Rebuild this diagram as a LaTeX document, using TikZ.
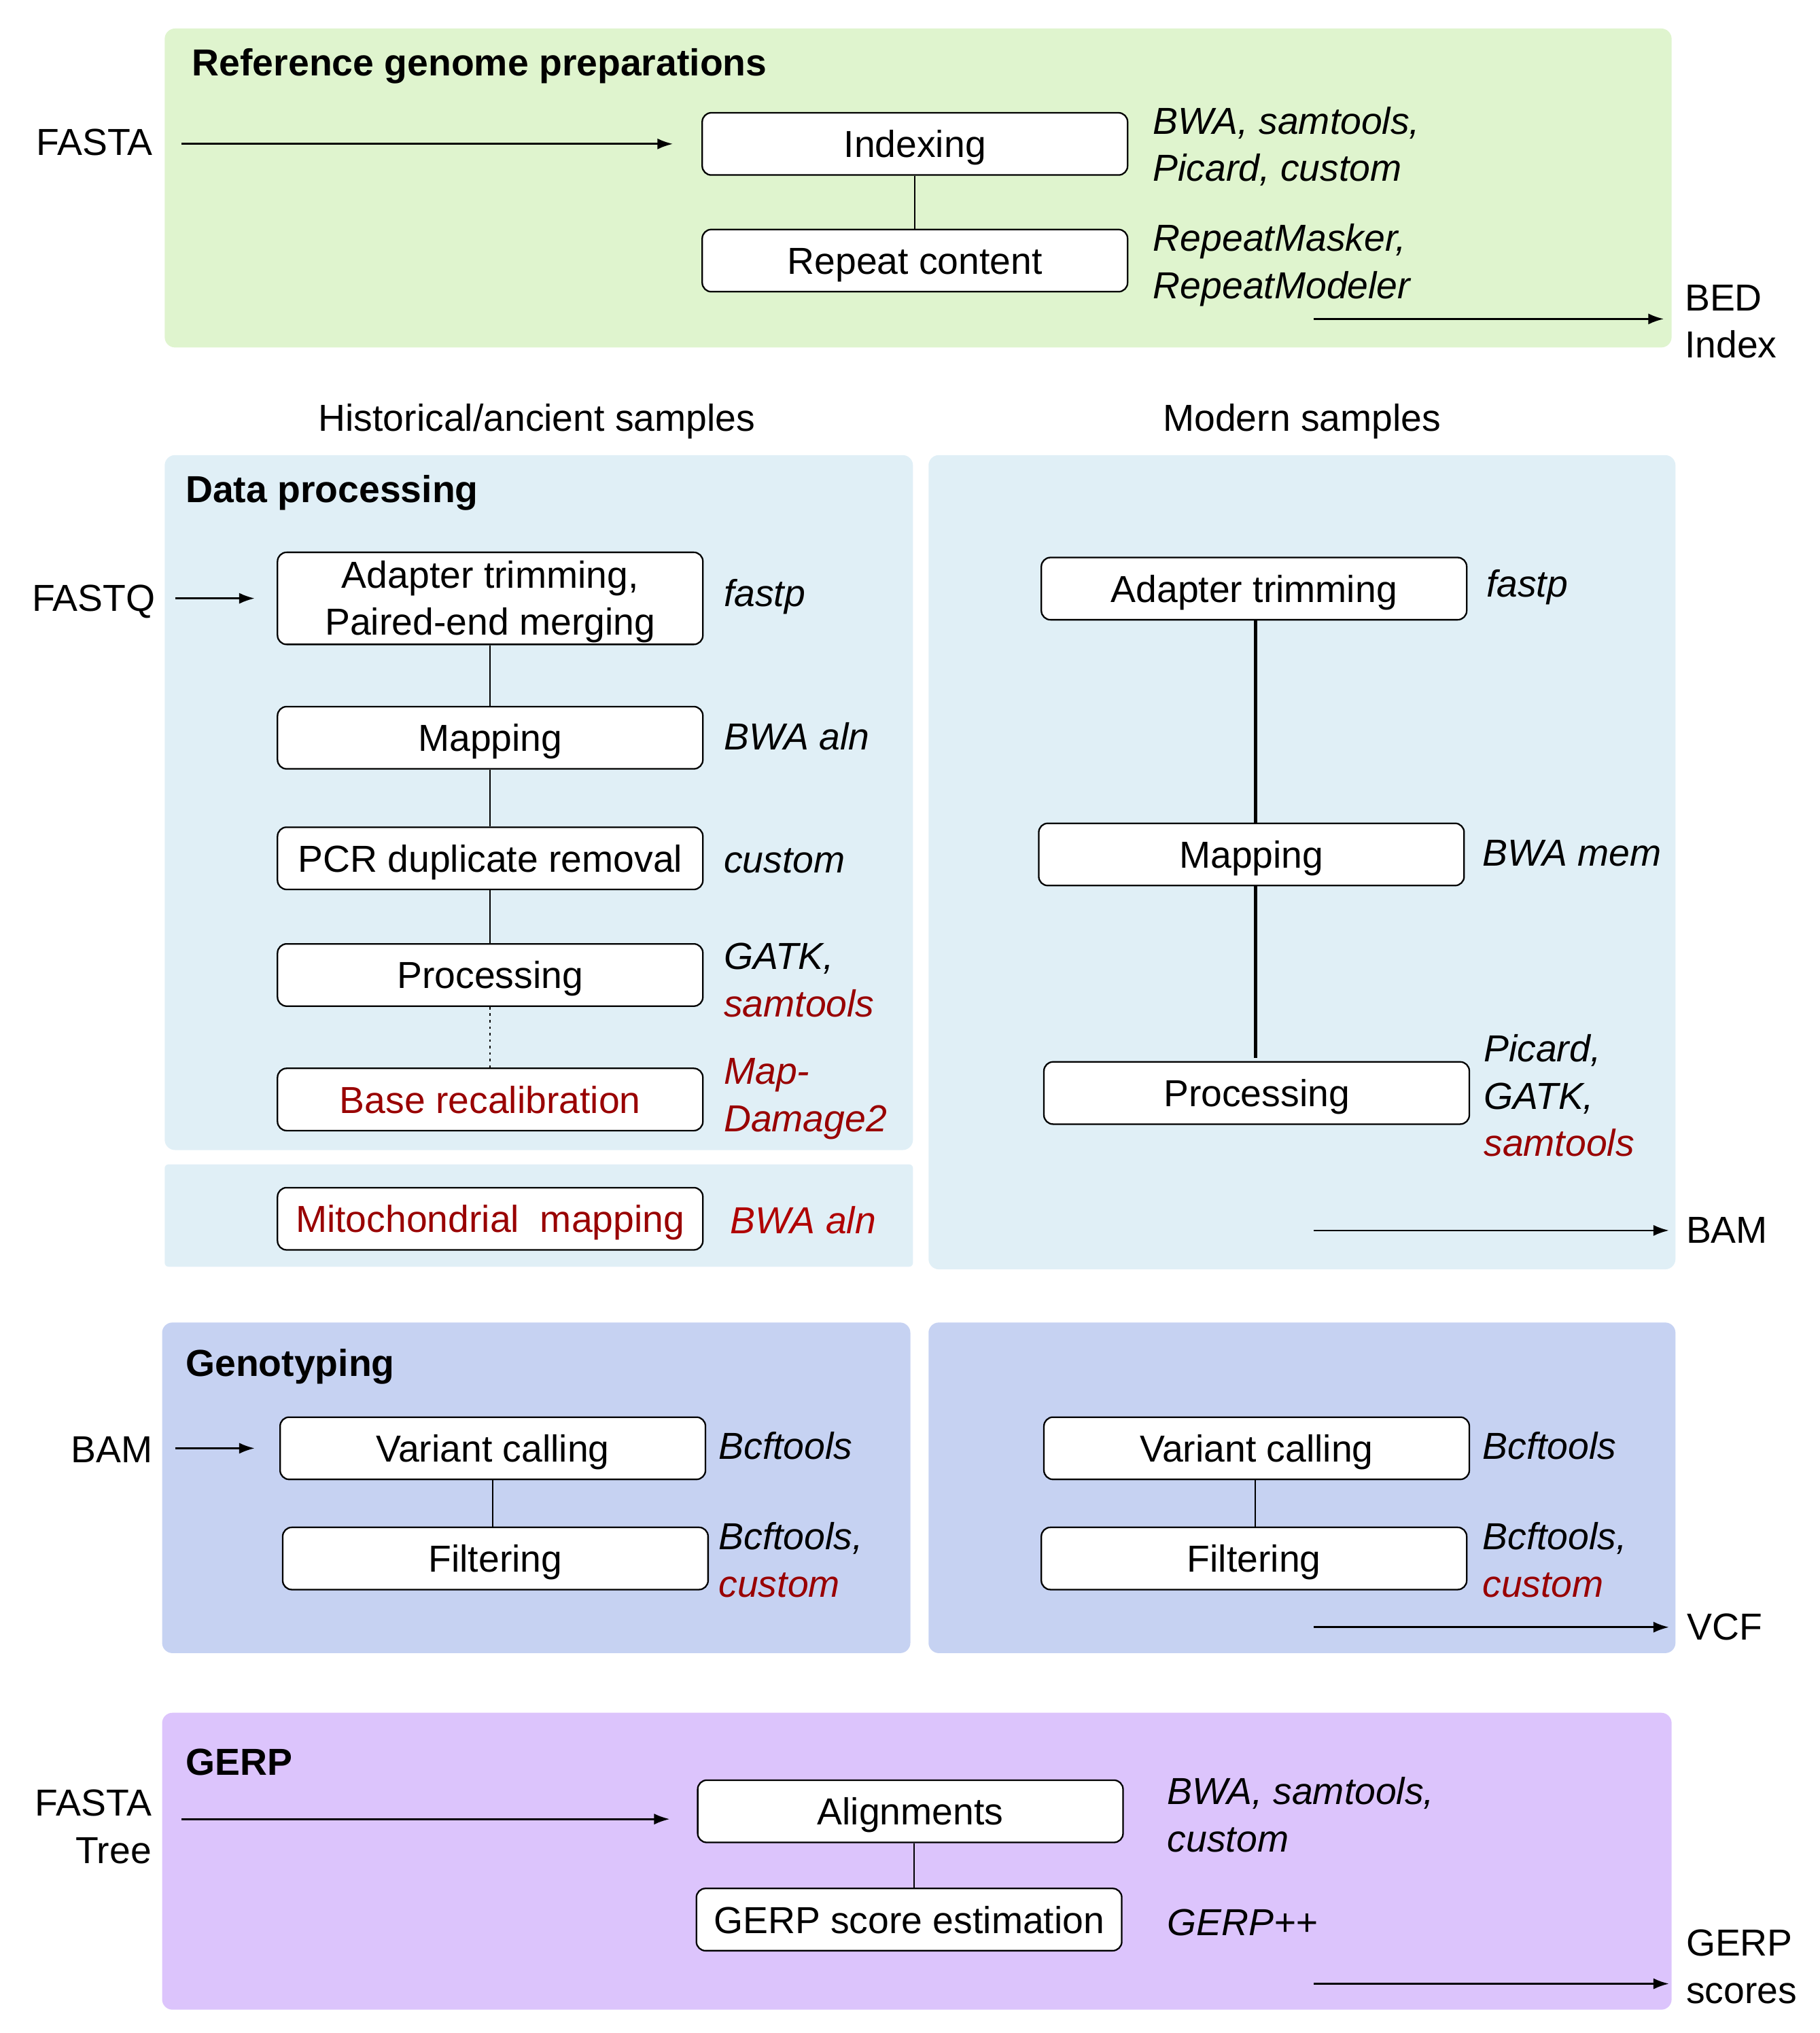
\documentclass[tikz,border=0pt]{standalone}
\usepackage{fontspec}
\setmainfont{Liberation Sans}
\usetikzlibrary{arrows.meta}
\definecolor{gbg}{HTML}{DFF4CE}
\definecolor{bbg}{HTML}{E0EFF6}
\definecolor{vbg}{HTML}{C6D2F2}
\definecolor{pbg}{HTML}{DCC4FC}
\definecolor{dred}{HTML}{990000}
\definecolor{bred}{HTML}{B00000}
\begin{document}
\begin{tikzpicture}[x=1pt,y=-1pt,
  font=\fontsize{29}{36.5}\selectfont,
  procbase/.style={draw, rounded corners=7pt, fill=white, minimum width=328pt, minimum height=48pt, inner sep=0pt, line width=1.2pt, align=center},
  proc/.style={procbase, text height=21pt, text depth=0pt},
  tool/.style={anchor=west, align=left, inner sep=0pt, font=\fontsize{29}{36.5}\selectfont\itshape},
  ttl/.style={anchor=west, inner sep=0pt, font=\fontsize{29}{36}\selectfont\bfseries},
  lbl/.style={inner sep=0pt},
  arr/.style={-{Latex[length=12pt,width=8.5pt]}, line width=1.4pt},
  link/.style={line width=1.2pt},
  thick link/.style={line width=2.6pt},
  panel/.style={rounded corners=8pt}
]
\useasboundingbox (0,0) rectangle (1403,1568);
% panels
\fill[gbg, panel] (127,22) rectangle (1289,268);
\fill[bbg, panel] (127,351) rectangle (704,887);
\fill[bbg, rounded corners=3pt] (127,898) rectangle (704,977);
\fill[bbg, panel] (716,351) rectangle (1292,979);
\fill[vbg, panel] (125,1020) rectangle (702,1275);
\fill[vbg, panel] (716,1020) rectangle (1292,1275);
\fill[pbg, panel] (125,1321) rectangle (1289,1550);

% titles
\node[ttl] (t1) at (148,51) {Reference genome preparations};
\node[ttl] (t2) at (143,380) {Data processing};
\node[ttl] (t3) at (143,1054) {Genotyping};
\node[ttl] (t4) at (143,1359) {GERP};
\node[lbl] (hhist) at (414,325) {Historical/ancient samples};
\node[lbl] (hmod) at (1004,325) {Modern samples};

% reference genome
\node[lbl, anchor=east] (fasta) at (118,110) {FASTA};
\node[proc] (idx) at (705.5,111) {Indexing};
\node[proc] (rep) at (705.5,201) {Repeat content};
\node[tool] (tidx) at (889,113) {BWA, samtools,\\Picard, custom};
\node[tool] (trep) at (889,204.5) {RepeatMasker,\\RepeatModeler};
\node[lbl, anchor=west, align=left] (bed) at (1299,248) {BED\\Index};
\coordinate (o1) at (1013,246);
\draw[arr, shorten <=22pt, shorten >=22pt] (fasta.east |- idx.west) -- (idx.west);
\draw[link] (idx.south) -- (rep.north);
\draw[arr, shorten >=16pt] (o1) -- (o1 -| bed.west);

% historical data processing
\node[lbl, anchor=east] (fastq) at (120,464) {FASTQ};
\node[procbase, minimum height=71pt] (hat) at (378,461.5) {};
\node[lbl, align=center] (hattxt) at (378,464) {Adapter trimming,\\[-0.5pt]Paired-end merging};
\node[proc] (hmap) at (378,569) {Mapping};
\node[proc] (hpcr) at (378,662) {PCR duplicate removal};
\node[proc] (hproc) at (378,752) {Processing};
\node[proc, text=dred] (hbase) at (378,848) {Base recalibration};
\node[proc, text=dred] (hmito) at (378,940) {Mitochondrial~ mapping};
\node[tool] (that) at (558,460) {fastp};
\node[tool] (thmap) at (558,568) {BWA aln};
\node[tool] (thpcr) at (558,664) {custom};
\node[tool] (thproc) at (558,756) {GATK,\\\textcolor{dred}{samtools}};
\node[tool, text=dred] (thbase) at (558,847.5) {Map-\\Damage2};
\node[tool, text=bred] (thmito) at (563,941) {BWA aln};
\draw[arr, shorten <=15pt, shorten >=17pt] (fastq.east |- hat.west) -- (hat.west);
\draw[link] (hat.south) -- (hmap.north);
\draw[link] (hmap.south) -- (hpcr.north);
\draw[link] (hpcr.south) -- (hproc.north);
\draw[line width=1.2pt, dash pattern=on 2pt off 3pt] (hproc.south) -- (hbase.north);

% modern data processing
\node[proc] (mat) at (967,454) {Adapter trimming};
\node[proc] (mmap) at (965,659) {Mapping};
\node[proc] (mproc) at (969,843) {Processing};
\node[tool] (tmat) at (1146,453) {fastp};
\node[tool] (tmmap) at (1143,658) {BWA mem};
\node[tool] (tmproc) at (1144,845) {Picard,\\GATK,\\\textcolor{dred}{samtools}};
\node[lbl, anchor=west] (bam1) at (1300,949) {BAM};
\coordinate (o2) at (1013,949);
\draw[thick link] (968,478) coordinate (mtop) -- (mtop |- mmap.north);
\draw[thick link] (968,683) coordinate (mmid) -- (968,816);
\draw[arr, shorten >=13pt] (o2) -- (o2 -| bam1.west);

% genotyping historical
\node[lbl, anchor=east] (bamin) at (118,1118) {BAM};
\node[proc] (hvc) at (380,1117) {Variant calling};
\node[proc] (hfil) at (382,1202) {Filtering};
\node[tool] (thvc) at (554,1115) {Bcftools};
\node[tool] (thfil) at (554,1203) {Bcftools,\\\textcolor{dred}{custom}};
\draw[arr, shorten <=17pt, shorten >=19pt] (bamin.east |- hvc.west) -- (hvc.west);
\draw[link] (hvc.south) -- (hvc.south |- hfil.north);

% genotyping modern
\node[proc] (mvc) at (969,1117) {Variant calling};
\node[proc] (mfil) at (967,1202) {Filtering};
\node[tool] (tmvc) at (1143,1115) {Bcftools};
\node[tool] (tmfil) at (1143,1203) {Bcftools,\\\textcolor{dred}{custom}};
\node[lbl, anchor=west] (vcf) at (1301,1255) {VCF};
\coordinate (o3) at (1013,1255);
\draw[link] (mvc.south -| 968,0) -- (968,1178);
\draw[arr, shorten >=14pt] (o3) -- (o3 -| vcf.west);

% GERP
\node[lbl, anchor=east, align=right] (gin) at (117,1409) {FASTA\\Tree};
\node[proc] (aln) at (702,1397) {Alignments};
\node[proc] (gse) at (701,1480.5) {GERP score estimation};
\node[tool] (taln) at (900,1399.5) {BWA, samtools,\\custom};
\node[tool] (tgse) at (900,1483) {GERP++};
\node[lbl, anchor=west, align=left] (gout) at (1300,1517) {GERP\\scores};
\coordinate (gi) at (140,1403);
\coordinate (o4) at (1013,1530);
\draw[arr, shorten >=21pt] (gi) -- (gi -| aln.west);
\draw[link] (aln.south -| 705,0) -- (705,1457);
\draw[arr, shorten >=13pt] (o4) -- (o4 -| gout.west);
\end{tikzpicture}
\end{document}
